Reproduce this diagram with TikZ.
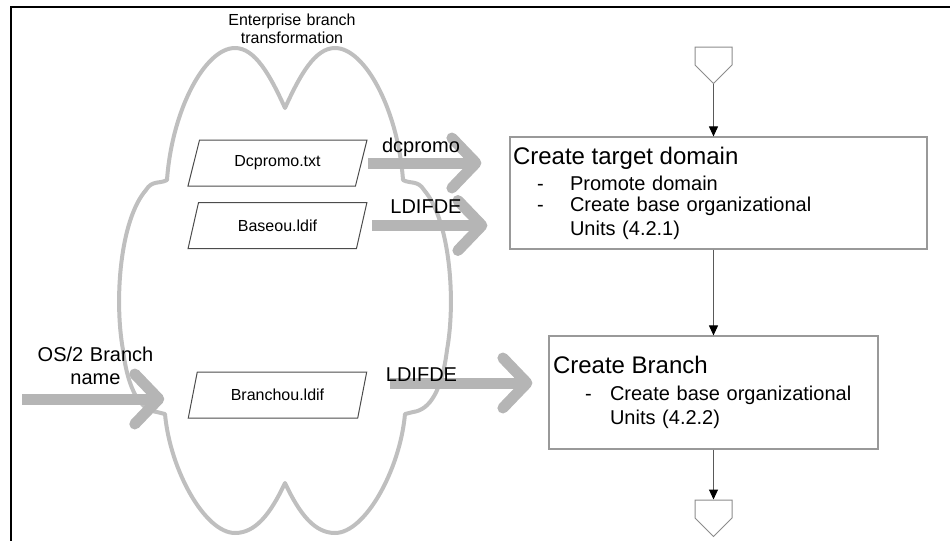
\documentclass[tikz,border=0pt]{standalone}
\usepackage{fontspec}
\setmainfont{Liberation Sans}
\usetikzlibrary{arrows.meta, positioning, shapes.geometric, shapes.symbols}

\begin{document}
\begin{tikzpicture}[x=0.5pt, y=-0.5pt,
    data/.style={trapezium, trapezium left angle=66, trapezium right angle=114,
        trapezium stretches=true, draw=black!70, line width=0.5pt,
        minimum width=89.5pt, minimum height=23pt, inner sep=0pt,
        font=\fontsize{8}{9}\selectfont},
    task/.style={rectangle, draw=black!40, line width=0.6pt, align=left},
    conn/.style={signal, signal to=south, signal from=nowhere, draw=black!45,
        line width=0.5pt, minimum width=18.5pt, minimum height=9pt, inner sep=0pt},
    flow/.style={draw=black!65, line width=0.5pt,
        -{Triangle[length=5pt, width=4.5pt, color=black]}},
    bigarrow/.style={draw=black!29, line width=5.5pt,
        -{Straight Barb[length=12pt, width=25pt, round]}},
    lbl/.style={font=\fontsize{10}{11.5}\selectfont, align=center}]
    \useasboundingbox (0,0) rectangle (950,541);
    % frame
    \draw[line width=1pt] (11,541) -- (11,6.5) -- (950,6.5);
    % the cloud
    \draw[black!25, line width=2pt, line join=round]
        (285,108) .. controls (300,75) and (315,48) .. (335,48)
        .. controls (365,48) and (398,110) .. (403,180)
        .. controls (410,184) and (418,180) .. (424,190)
        .. controls (450,220) and (456,300) .. (447,350)
        .. controls (442,390) and (430,410) .. (413,412) -- (405,414)
        .. controls (400,470) and (365,533) .. (335,533)
        .. controls (315,533) and (300,515) .. (285,483)
        .. controls (270,515) and (255,533) .. (235,533)
        .. controls (205,533) and (170,470) .. (165,414)
        -- (157,412) .. controls (140,410) and (128,390) .. (123,350)
        .. controls (114,300) and (120,220) .. (146,190)
        .. controls (152,180) and (160,184) .. (167,180)
        .. controls (172,110) and (205,48) .. (235,48)
        .. controls (255,48) and (270,75) .. (285,108) -- cycle;
    \node[font=\fontsize{8}{9}\selectfont, text width=90pt, align=center,
        anchor=base] (ent) at (292,25) {Enterprise branch\\transformation};
    % input files
    \node[data] (dc) at (277.5,163) {Dcpromo.txt};
    \node[data] (base) at (277.5,225.5) {Baseou.ldif};
    \node[data] (branch) at (277.5,395) {Branchou.ldif};
    % steps
    \node[conn] (top) at (713.5,56) {};
    \node[task, text width=205.5pt, inner xsep=1.5pt, minimum height=56pt]
        (dom) at (718.5,193) {\fontsize{12}{14}\selectfont Create target domain\\[3pt]
        \fontsize{10}{10.25}\selectfont
        \hspace*{12pt}\makebox[16.5pt][l]{-}Promote domain\\
        \hspace*{12pt}\makebox[16.5pt][l]{-}Create base organizational\\
        \hspace*{28.5pt}Units (4.2.1)};
    \node[task, text width=160.5pt, inner xsep=2pt, minimum height=56.5pt]
        (br) at (713.5,392.5) {\fontsize{12}{14}\selectfont Create Branch\\[2pt]
        \fontsize{10}{11.5}\selectfont
        \hspace*{16pt}\makebox[12.5pt][l]{-}Create base organizational\\
        \hspace*{28.5pt}Units (4.2.2)};
    \node[conn] (bot) at (713.5,509) {};
    \draw[flow] (top.south) -- (top.south |- dom.north);
    \draw[flow] (dom.south -| top.south) -- (br.north -| top.south);
    \draw[flow] (br.south -| top.south) -- (bot.north);
    % big arrows
    \coordinate (os) at (22,399);
    \draw[bigarrow, shorten <=3pt, shorten >=14pt] (dc.east) -- (dc.east -| dom.west);
    \draw[bigarrow, shorten <=5pt, shorten >=11pt] (base.east) -- (base.east -| dom.west);
    \draw[bigarrow, shorten <=13.5pt, shorten >=8pt] ([yshift=6pt]branch.east) -- ([yshift=6pt]branch.east -| br.west);
    \draw[bigarrow, shorten >=14pt] (os) -- (os -| branch.west);
    \node[lbl, anchor=base] (dcl) at (421,152) {dcpromo};
    \node[lbl, anchor=base] (ld1) at (426,213) {LDIFDE};
    \node[lbl, anchor=base] (ld2) at (421.5,381) {LDIFDE};
    \node[lbl, text width=70pt, anchor=base] (osl) at (95.5,361) {OS/2 Branch\\name};
\end{tikzpicture}
\end{document}
